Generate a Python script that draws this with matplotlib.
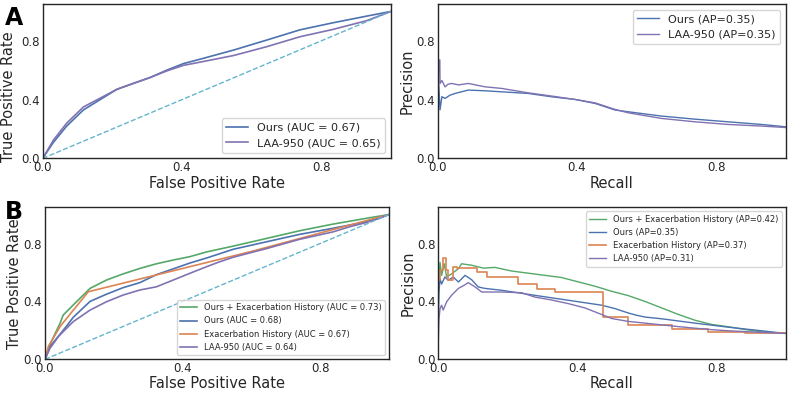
import matplotlib.pyplot as plt

# colours (seaborn "deep")
c_blue = '#4C72B0'
c_purple = '#8172B2'
c_orange = '#DD8452'
c_green = '#55A868'
c_diag = '#64B5CD'

# ---- A: ROC ----
a_roc_fpr_ours = [0, 0.031, 0.069, 0.117, 0.165, 0.213, 0.26, 0.308, 0.356, 0.404, 0.452, 0.548, 0.643, 0.739, 0.834, 0.93, 1.0]
a_roc_tpr_ours = [0, 0.11, 0.22, 0.33, 0.40, 0.47, 0.51, 0.55, 0.60, 0.645, 0.675, 0.737, 0.805, 0.875, 0.923, 0.968, 1.0]
a_roc_fpr_laa = [0, 0.031, 0.069, 0.117, 0.165, 0.213, 0.26, 0.308, 0.356, 0.404, 0.452, 0.548, 0.643, 0.739, 0.834, 0.93, 1.0]
a_roc_tpr_laa = [0, 0.125, 0.24, 0.35, 0.41, 0.47, 0.51, 0.55, 0.595, 0.633, 0.655, 0.70, 0.76, 0.828, 0.878, 0.937, 1.0]

# ---- A: PR ----
a_pr_rec_ours = [0, 0.002, 0.0066, 0.012, 0.021, 0.035, 0.05, 0.088, 0.136, 0.184, 0.26, 0.328, 0.395, 0.452, 0.51, 0.548, 0.643, 0.739, 0.834, 0.93, 1.0]
a_pr_prec_ours = [0.20, 0.55, 0.33, 0.42, 0.408, 0.43, 0.442, 0.465, 0.46, 0.453, 0.442, 0.419, 0.401, 0.374, 0.329, 0.317, 0.288, 0.267, 0.249, 0.231, 0.215]
a_pr_rec_laa = [0, 0.003, 0.006, 0.0066, 0.012, 0.021, 0.03, 0.04, 0.06, 0.088, 0.136, 0.184, 0.26, 0.328, 0.395, 0.452, 0.51, 0.548, 0.643, 0.739, 0.834, 0.93, 1.0]
a_pr_prec_laa = [0.35, 0.67, 0.67, 0.51, 0.53, 0.487, 0.505, 0.51, 0.50, 0.51, 0.487, 0.476, 0.446, 0.424, 0.401, 0.378, 0.333, 0.31, 0.272, 0.249, 0.231, 0.22, 0.21]

# ---- B: ROC ----
b_roc_fpr_comb = [0, 0.0145, 0.024, 0.044, 0.053, 0.082, 0.131, 0.179, 0.227, 0.276, 0.324, 0.373, 0.421, 0.47, 0.547, 0.644, 0.74, 0.837, 0.934, 1.0]
b_roc_tpr_comb = [0, 0.10, 0.15, 0.25, 0.306, 0.375, 0.49, 0.548, 0.59, 0.628, 0.66, 0.686, 0.709, 0.742, 0.782, 0.835, 0.888, 0.934, 0.974, 1.0]
b_roc_fpr_ours = [0, 0.0145, 0.034, 0.063, 0.082, 0.131, 0.179, 0.227, 0.276, 0.324, 0.373, 0.421, 0.47, 0.547, 0.644, 0.74, 0.837, 0.934, 1.0]
b_roc_tpr_ours = [0, 0.087, 0.145, 0.23, 0.29, 0.40, 0.45, 0.495, 0.53, 0.585, 0.625, 0.665, 0.70, 0.76, 0.812, 0.863, 0.905, 0.95, 1.0]
b_roc_fpr_exh = [0, 0.01, 0.045, 0.126, 0.6, 1.0]
b_roc_tpr_exh = [0, 0.09, 0.23, 0.467, 0.745, 1.0]
b_roc_fpr_laa = [0, 0.0145, 0.04, 0.082, 0.131, 0.179, 0.227, 0.276, 0.324, 0.373, 0.421, 0.47, 0.508, 0.547, 0.6, 0.644, 0.74, 0.837, 0.886, 0.934, 0.973, 1.0]
b_roc_tpr_laa = [0, 0.076, 0.16, 0.26, 0.34, 0.398, 0.444, 0.479, 0.501, 0.548, 0.594, 0.64, 0.674, 0.705, 0.738, 0.765, 0.829, 0.88, 0.916, 0.945, 0.974, 1.0]

# ---- B: PR ----
b_pr_rec_comb = [0, 0.003, 0.005, 0.0096, 0.017, 0.024, 0.038, 0.058, 0.067, 0.096, 0.13, 0.163, 0.211, 0.259, 0.307, 0.355, 0.403, 0.451, 0.499, 0.547, 0.595, 0.643, 0.691, 0.739, 0.787, 0.835, 0.883, 0.931, 1.0]
b_pr_prec_comb = [0.45, 0.60, 0.67, 0.58, 0.66, 0.57, 0.59, 0.626, 0.66, 0.65, 0.63, 0.635, 0.61, 0.595, 0.58, 0.565, 0.535, 0.505, 0.47, 0.44, 0.40, 0.355, 0.31, 0.27, 0.241, 0.225, 0.206, 0.19, 0.179]
b_pr_rec_ours = [0, 0.002, 0.005, 0.0096, 0.019, 0.029, 0.043, 0.058, 0.077, 0.096, 0.115, 0.134, 0.182, 0.278, 0.374, 0.47, 0.508, 0.547, 0.57, 0.595, 0.643, 0.691, 0.739, 0.787, 0.835, 0.931, 1.0]
b_pr_prec_ours = [0.26, 0.465, 0.557, 0.52, 0.569, 0.546, 0.569, 0.534, 0.58, 0.55, 0.50, 0.49, 0.477, 0.442, 0.408, 0.374, 0.351, 0.32, 0.305, 0.292, 0.28, 0.265, 0.25, 0.236, 0.222, 0.197, 0.179]
b_pr_rec_exh = [0, 0.005, 0.0144, 0.021, 0.029, 0.043, 0.053, 0.11, 0.139, 0.23, 0.283, 0.336, 0.475, 0.547, 0.672, 0.777, 0.883, 1.0]
b_pr_prec_exh = [0.55, 0.62, 0.70, 0.614, 0.546, 0.637, 0.628, 0.603, 0.568, 0.523, 0.488, 0.465, 0.293, 0.236, 0.209, 0.19, 0.179, 0.179]
b_pr_rec_laa = [0, 0.002, 0.005, 0.0096, 0.014, 0.024, 0.038, 0.058, 0.077, 0.086, 0.106, 0.125, 0.182, 0.24, 0.278, 0.326, 0.374, 0.422, 0.47, 0.499, 0.547, 0.595, 0.643, 0.691, 0.739, 0.787, 0.835, 0.931, 1.0]
b_pr_prec_laa = [0.12, 0.28, 0.35, 0.374, 0.34, 0.397, 0.442, 0.49, 0.515, 0.53, 0.50, 0.465, 0.465, 0.46, 0.43, 0.41, 0.385, 0.355, 0.31, 0.282, 0.262, 0.25, 0.238, 0.226, 0.215, 0.205, 0.197, 0.186, 0.179]

ticks = [0.0, 0.4, 0.8]
tick_labels = ['0.0', '0.4', '0.8']

plt.rcParams['font.family'] = 'DejaVu Sans'
plt.rcParams['text.color'] = '0.15'
plt.rcParams['axes.labelcolor'] = '0.15'
plt.rcParams['xtick.color'] = '0.15'
plt.rcParams['ytick.color'] = '0.15'

fig = plt.figure(figsize=(7.89, 3.94), dpi=100)
ax_a1 = fig.add_axes([0.0541, 0.598, 0.4414, 0.3916])
ax_a2 = fig.add_axes([0.5548, 0.598, 0.4410, 0.3916])
ax_b1 = fig.add_axes([0.0570, 0.088, 0.4360, 0.3858])
ax_b2 = fig.add_axes([0.5555, 0.088, 0.4403, 0.3858])


def style(ax, xlabel, ylabel):
    ax.set_xlim(0.0, 1.0)
    ax.set_ylim(0.0, 1.05)
    ax.set_xticks(ticks)
    ax.set_xticklabels(tick_labels)
    ax.set_yticks(ticks)
    ax.set_yticklabels(tick_labels)
    ax.tick_params(length=0, labelsize=8.5, pad=2)
    ax.set_xlabel(xlabel, fontsize=10.5, labelpad=1)
    ax.set_ylabel(ylabel, fontsize=10.5, labelpad=1)
    for s in ax.spines.values():
        s.set_color('0.15')
        s.set_linewidth(1.0)


lw = 1.2

# A - ROC
ax_a1.plot(a_roc_fpr_ours, a_roc_tpr_ours, color=c_blue, lw=lw, label='Ours (AUC = 0.67)')
ax_a1.plot(a_roc_fpr_laa, a_roc_tpr_laa, color=c_purple, lw=lw, label='LAA-950 (AUC = 0.65)')
ax_a1.plot([0, 1], [0, 1], color=c_diag, lw=1, ls='--')
style(ax_a1, 'False Positive Rate', 'True Positive Rate')
ax_a1.yaxis.set_label_coords(-0.077, 0.40)
ax_a1.legend(loc='lower right', fontsize=8, edgecolor='0.8')

# A - PR
ax_a2.plot(a_pr_rec_ours, a_pr_prec_ours, color=c_blue, lw=1, label='Ours (AP=0.35)')
ax_a2.plot(a_pr_rec_laa, a_pr_prec_laa, color=c_purple, lw=1, label='LAA-950 (AP=0.35)')
style(ax_a2, 'Recall', 'Precision')
ax_a2.legend(loc='upper right', fontsize=8, edgecolor='0.8')

# B - ROC
ax_b1.plot(b_roc_fpr_comb, b_roc_tpr_comb, color=c_green, lw=lw, label='Ours + Exacerbation History (AUC = 0.73)')
ax_b1.plot(b_roc_fpr_ours, b_roc_tpr_ours, color=c_blue, lw=lw, label='Ours (AUC = 0.68)')
ax_b1.plot(b_roc_fpr_exh, b_roc_tpr_exh, color=c_orange, lw=lw, label='Exacerbation History (AUC = 0.67)')
ax_b1.plot(b_roc_fpr_laa, b_roc_tpr_laa, color=c_purple, lw=lw, label='LAA-950 (AUC = 0.64)')
ax_b1.plot([0, 1], [0, 1], color=c_diag, lw=1, ls='--')
style(ax_b1, 'False Positive Rate', 'True Positive Rate')
ax_b1.legend(loc='lower right', fontsize=6, edgecolor='0.8')

# B - PR
ax_b2.plot(b_pr_rec_comb, b_pr_prec_comb, color=c_green, lw=1, label='Ours + Exacerbation History (AP=0.42)')
ax_b2.plot(b_pr_rec_ours, b_pr_prec_ours, color=c_blue, lw=1, label='Ours (AP=0.35)')
ax_b2.step(b_pr_rec_exh, b_pr_prec_exh, where='post', color=c_orange, lw=1.2, label='Exacerbation History (AP=0.37)')
ax_b2.plot(b_pr_rec_laa, b_pr_prec_laa, color=c_purple, lw=1, label='LAA-950 (AP=0.31)')
style(ax_b2, 'Recall', 'Precision')
ax_b2.legend(loc='upper right', fontsize=6, edgecolor='0.8')

fig.text(0.006, 0.985, 'A', fontsize=17, fontweight='bold', color='black', va='top')
fig.text(0.006, 0.492, 'B', fontsize=17, fontweight='bold', color='black', va='top')

fig.savefig('out.png', dpi=100)
